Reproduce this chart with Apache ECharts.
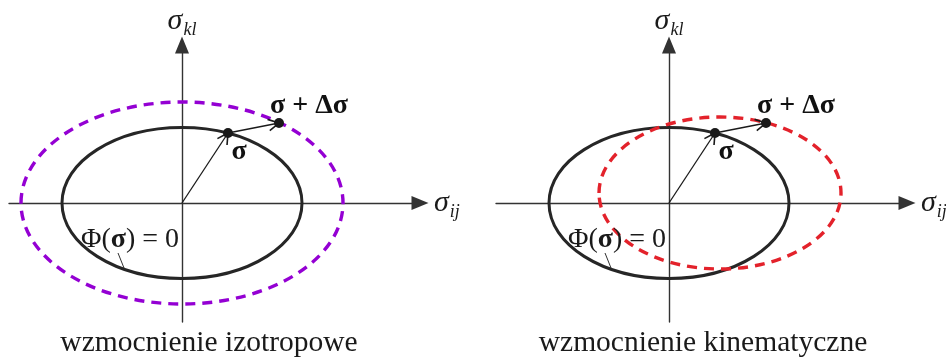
<!DOCTYPE html>
<html>
<head>
<meta charset="utf-8">
<script src="https://cdn.jsdelivr.net/npm/echarts@6/dist/echarts.min.js"></script>
<style>
  html, body { margin: 0; padding: 0; background: #ffffff; }
  #chart { width: 946px; height: 359px; }
</style>
</head>
<body>
<div id="chart"></div>
<script>
// Stress-space axis limits (σ_ij horizontal, σ_kl vertical), in stress units
const xExtent = [-1.73, 2.38];
const yExtent = [-1.19, 1.58];

// Yield surfaces: [centre σ_ij, centre σ_kl, semi-axis along σ_ij, semi-axis along σ_kl]
const initialSurface = [0, 0, 1.2, 0.755];
const isotropicSurface = [0, 0, 1.61, 1.01];
const kinematicSurface = [0.51, 0.10, 1.21, 0.76];

// Current stress state and the state after the increment Δσ
const stressState = [0.46, 0.70];
const incrementedState = [0.97, 0.80];

// Leader from the Φ(σ) = 0 label down to the initial surface: [x1, y1, x2, y2]
const leader = [-0.64, -0.50, -0.58, -0.65];

const panelTitles = ['wzmocnienie izotropowe', 'wzmocnienie kinematyczne'];
const hardenedSurfaces = [isotropicSurface, kinematicSurface];
const hardenedColors = ['#9400d3', '#e3222b'];

const SERIF = '"Liberation Serif", "Times New Roman", serif';
const INK = '#1a1a1a';

const chart = echarts.init(document.getElementById('chart'), null, { renderer: 'canvas' });

function renderEllipse(stroke, lineWidth, lineDash) {
  return function (params, api) {
    const c = api.coord([api.value(0), api.value(1)]);
    const r = api.size([api.value(2), api.value(3)]);
    return {
      type: 'ellipse',
      shape: { cx: c[0], cy: c[1], rx: r[0], ry: r[1] },
      style: { fill: null, stroke: stroke, lineWidth: lineWidth, lineDash: lineDash }
    };
  };
}

function renderVector(params, api) {
  const a = api.coord([api.value(0), api.value(1)]);
  const b = api.coord([api.value(2), api.value(3)]);
  const ang = Math.atan2(b[1] - a[1], b[0] - a[0]);
  const L = 12, spread = 0.5;
  const h1 = [b[0] - L * Math.cos(ang - spread), b[1] - L * Math.sin(ang - spread)];
  const h2 = [b[0] - L * Math.cos(ang + spread), b[1] - L * Math.sin(ang + spread)];
  return {
    type: 'group',
    children: [
      { type: 'line', shape: { x1: a[0], y1: a[1], x2: b[0], y2: b[1] },
        style: { stroke: INK, lineWidth: 1.3 } },
      { type: 'polyline', shape: { points: [h1, b, h2] },
        style: { stroke: INK, lineWidth: 1.6, fill: null } }
    ]
  };
}

function renderLeader(params, api) {
  const a = api.coord([api.value(0), api.value(1)]);
  const b = api.coord([api.value(2), api.value(3)]);
  return {
    type: 'group',
    children: [
      { type: 'line', shape: { x1: a[0], y1: a[1], x2: b[0], y2: b[1] },
        style: { stroke: INK, lineWidth: 0.9 } },
      { type: 'text', x: a[0] + 12, y: a[1] - 13,
        style: {
          text: '{n|Φ(}{b|σ}{n|) = 0}',
          align: 'center', verticalAlign: 'middle',
          rich: {
            n: { fontFamily: SERIF, fontSize: 28, fill: INK },
            b: { fontFamily: SERIF, fontSize: 28, fontWeight: 'bold', fill: INK }
          }
        } }
    ]
  };
}

const grids = [];
const xAxes = [];
const yAxes = [];
const series = [];

[9, 496].forEach(function (left, i) {
  grids.push({ left: left, top: 45, width: 411, height: 277, containLabel: false, outerBoundsMode: 'none' });

  const axisLine = {
    show: true, onZero: true,
    symbol: ['none', 'triangle'], symbolSize: [14, 17],
    lineStyle: { color: '#333333', width: 1.4 }
  };

  xAxes.push({
    type: 'value', gridIndex: i, min: xExtent[0], max: xExtent[1],
    axisLine: axisLine, axisTick: { show: false }, axisLabel: { show: false },
    splitLine: { show: false },
    name: '{s|σ}{sub|ij}', nameLocation: 'end', nameGap: 14, nameMoveOverlap: false,
    nameTextStyle: {
      rich: {
        s: { fontFamily: SERIF, fontStyle: 'italic', fontSize: 30, color: INK },
        sub: { fontFamily: SERIF, fontStyle: 'italic', fontSize: 18, color: INK, padding: [18, 0, 0, 1] }
      }
    }
  });

  yAxes.push({
    type: 'value', gridIndex: i, min: yExtent[0], max: yExtent[1],
    axisLine: axisLine, axisTick: { show: false }, axisLabel: { show: false },
    splitLine: { show: false },
    name: '{s|σ}{sub|kl}', nameLocation: 'end', nameGap: 6, nameMoveOverlap: false,
    nameTextStyle: {
      rich: {
        s: { fontFamily: SERIF, fontStyle: 'italic', fontSize: 30, color: INK },
        sub: { fontFamily: SERIF, fontStyle: 'italic', fontSize: 18, color: INK, padding: [18, 0, 0, 1] }
      }
    }
  });

  series.push({
    type: 'custom', xAxisIndex: i, yAxisIndex: i, z: 3,
    renderItem: renderEllipse('#262626', 3, null),
    data: [initialSurface]
  });
  series.push({
    type: 'custom', xAxisIndex: i, yAxisIndex: i, z: 4,
    renderItem: renderEllipse(hardenedColors[i], 3.4, [10, 7]),
    data: [hardenedSurfaces[i]]
  });
  series.push({
    type: 'custom', xAxisIndex: i, yAxisIndex: i, z: 5,
    renderItem: renderVector,
    data: [[0, 0].concat(stressState), stressState.concat(incrementedState)]
  });
  series.push({
    type: 'custom', xAxisIndex: i, yAxisIndex: i, z: 5,
    renderItem: renderLeader,
    data: [leader]
  });
  series.push({
    type: 'scatter', xAxisIndex: i, yAxisIndex: i, z: 6,
    symbol: 'circle', symbolSize: 10,
    itemStyle: { color: INK, opacity: 1 },
    data: [
      { value: stressState,
        label: { show: true, formatter: 'σ', position: 'inside', offset: [11, 19] } },
      { value: incrementedState,
        label: { show: true, formatter: 'σ + Δσ', position: 'inside', offset: [30, -17] } }
    ],
    label: { fontFamily: SERIF, fontWeight: 'bold', fontSize: 28, color: '#111111', opacity: 1 },
    emphasis: { disabled: true }
  });
});

chart.setOption({
  animation: false,
  backgroundColor: '#ffffff',
  grid: grids,
  xAxis: xAxes,
  yAxis: yAxes,
  series: series,
  graphic: panelTitles.map(function (t, i) {
    return {
      type: 'text', x: [209, 703][i], y: 343,
      style: { text: t, fontFamily: SERIF, fontSize: 29.5, fill: INK, align: 'center', verticalAlign: 'middle' }
    };
  })
});
</script>
</body>
</html>
